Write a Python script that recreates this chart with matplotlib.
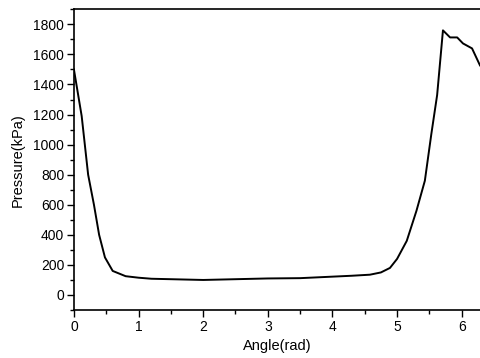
import matplotlib
matplotlib.use('Agg')
import matplotlib.pyplot as plt
import numpy as np
from matplotlib.ticker import MultipleLocator

plt.rcParams['font.family'] = ['Liberation Sans', 'DejaVu Sans']

angle = [0.0, 0.12, 0.22, 0.31, 0.39, 0.48, 0.6, 0.8, 1.0, 1.2, 1.5, 2.0, 2.5,
         3.0, 3.5, 4.0, 4.3, 4.58, 4.75, 4.89, 5.0, 5.15, 5.3, 5.43, 5.53,
         5.62, 5.71, 5.82, 5.93, 6.02, 6.16, 6.283]
pressure = [1500, 1190, 800, 600, 400, 250, 160, 125, 115, 108, 105, 100, 105,
            110, 112, 122, 128, 135, 150, 180, 240, 360, 560, 760, 1070,
            1330, 1760, 1713, 1713, 1673, 1640, 1527]

fig = plt.figure(figsize=(4.8, 3.58), dpi=100)
ax = fig.add_axes([0.154, 0.134, 0.846, 0.84])
ax.plot(angle, pressure, color='black', lw=1.4)

ax.set_xlim(0, 2 * np.pi)
ax.set_ylim(-100, 1900)
ax.xaxis.set_major_locator(MultipleLocator(1))
ax.xaxis.set_minor_locator(MultipleLocator(0.5))
ax.yaxis.set_major_locator(MultipleLocator(200))
ax.yaxis.set_minor_locator(MultipleLocator(100))
ax.tick_params(which='major', direction='out', length=5, width=1, labelsize=10, pad=2)
ax.tick_params(which='minor', direction='out', length=3, width=1)
ax.spines['right'].set_visible(False)
for s in ['left', 'bottom', 'top']:
    ax.spines[s].set_linewidth(1.2)

ax.set_xlabel('Angle(rad)', fontsize=10.5, labelpad=4)
ax.set_ylabel('Pressure(kPa)', fontsize=10.5, labelpad=6)

fig.savefig('out.png', dpi=100)
